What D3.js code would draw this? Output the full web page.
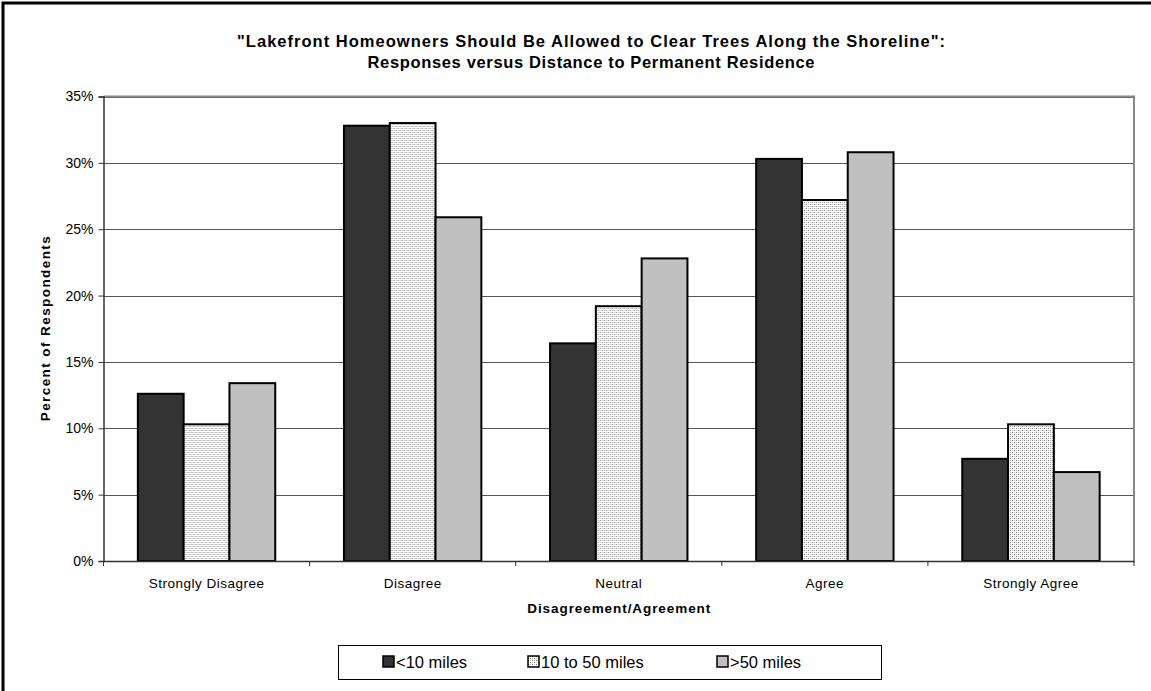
<!DOCTYPE html>
<html><head><meta charset="utf-8">
<script src="https://cdn.jsdelivr.net/npm/d3@7"></script>
<style>
html,body{margin:0;padding:0;background:#fff;overflow:hidden;}
svg{display:block;}
text{font-family:"Liberation Sans",Arial,Helvetica,sans-serif;}
</style></head>
<body>
<svg id="chart" width="1151" height="691"></svg>
<script>
const categories = ["Strongly Disagree","Disagree","Neutral","Agree","Strongly Agree"];
const seriesNames = ["<10 miles","10 to 50 miles",">50 miles"];
const under10 = [0.126, 0.328, 0.164, 0.303, 0.077];
const from10to50 = [0.103, 0.330, 0.192, 0.272, 0.103];
const over50 = [0.134, 0.259, 0.228, 0.308, 0.067];
const yTicks = [0,0.05,0.10,0.15,0.20,0.25,0.30,0.35];
const titleLines = ["\"Lakefront Homeowners Should Be Allowed to Clear Trees Along the Shoreline\":","Responses versus Distance to Permanent Residence"];
const yTitle = "Percent of Respondents";
const xTitle = "Disagreement/Agreement";

const seriesValues = [under10, from10to50, over50];
const svg = d3.select("#chart");
const defs = svg.append("defs");
const pat = defs.append("pattern").attr("id","dots").attr("patternUnits","userSpaceOnUse")
  .attr("width",4).attr("height",4);
pat.append("rect").attr("width",4).attr("height",4).attr("fill","#fff");
pat.append("rect").attr("x",0).attr("y",0).attr("width",1).attr("height",1).attr("fill","#777");
pat.append("rect").attr("x",2).attr("y",2).attr("width",1).attr("height",1).attr("fill","#777");
pat.append("rect").attr("x",2).attr("y",0).attr("width",1).attr("height",1).attr("fill","#bbb");
pat.append("rect").attr("x",0).attr("y",2).attr("width",1).attr("height",1).attr("fill","#bbb");
const fills = ["#333333","url(#dots)","#c0c0c0"];

// outer chart border (right/bottom outside view)
svg.append("path").attr("d","M3,700V3H1160").attr("fill","none").attr("stroke","#000").attr("stroke-width",3);

const L=103.5, R=1134, T=96.5, B=561;
const x0 = d3.scaleBand().domain(categories).range([L,R]).padding(0);
const x1 = d3.scaleBand().domain(seriesNames).range([0,x0.bandwidth()]).paddingInner(0).paddingOuter(0.75);
const y = d3.scaleLinear().domain([0,0.35]).range([B,T]);

// gridlines
svg.append("g").selectAll("line").data(yTicks.filter(d=>d>0)).join("line")
  .attr("x1",L).attr("x2",R).attr("y1",d=>Math.round(y(d))+0.5).attr("y2",d=>Math.round(y(d))+0.5)
  .attr("stroke","#555").attr("stroke-width",1);
// plot border top/right
svg.append("path").attr("d",`M${L},${T}H${R}V${B}`).attr("fill","none").attr("stroke","#888").attr("stroke-width",2);

// bars
const groups = svg.append("g").selectAll("g").data(categories).join("g")
  .attr("transform",d=>`translate(${x0(d)},0)`);
groups.selectAll("rect").data((c,i)=>seriesNames.map((s,j)=>({s,j,v:seriesValues[j][i]}))).join("rect")
  .attr("x",d=>x1(d.s)).attr("width",x1.bandwidth())
  .attr("y",d=>y(d.v)).attr("height",d=>B-y(d.v))
  .attr("fill",d=>fills[d.j]).attr("stroke","#000").attr("stroke-width",2);

// y axis
const yAxis = d3.axisLeft(y).tickValues(yTicks).tickFormat(d3.format(".0%")).tickSize(5).tickPadding(5);
const ya = svg.append("g").attr("transform",`translate(${L},0)`).call(yAxis);
ya.select(".domain").attr("stroke","#333").attr("stroke-width",1.5);
ya.selectAll(".tick line").attr("stroke","#333");
ya.selectAll("text").attr("font-size",14).attr("fill","#000").attr("font-family","Liberation Sans, Arial, sans-serif");

// x axis
const xAxis = d3.axisBottom(x0).tickSize(0).tickPadding(17);
const xa = svg.append("g").attr("transform",`translate(0,${B})`).call(xAxis);
xa.select(".domain").attr("stroke","#333").attr("stroke-width",1.5);
xa.selectAll("text").attr("font-size",13.5).attr("letter-spacing",0.5).attr("fill","#000").attr("font-family","Liberation Sans, Arial, sans-serif");
// category boundary ticks
svg.append("g").selectAll("line").data(d3.range(categories.length+1)).join("line")
  .attr("x1",i=>L+i*x0.step()).attr("x2",i=>L+i*x0.step())
  .attr("y1",B).attr("y2",B+5).attr("stroke","#333").attr("stroke-width",1);

// titles
const tt = svg.append("g").attr("font-weight","bold").attr("text-anchor","middle");
tt.append("text").attr("x",591).attr("y",47).attr("font-size",16.5)
  .attr("textLength",708).attr("lengthAdjust","spacing").text(titleLines[0]);
tt.append("text").attr("x",591).attr("y",68).attr("font-size",16.5)
  .attr("textLength",447).attr("lengthAdjust","spacing").text(titleLines[1]);
svg.append("text").attr("transform",`translate(50,${(T+B)/2}) rotate(-90)`).attr("text-anchor","middle")
  .attr("font-weight","bold").attr("font-size",13.5).attr("textLength",185).attr("lengthAdjust","spacing").text(yTitle);
svg.append("text").attr("x",(L+R)/2).attr("y",613).attr("text-anchor","middle")
  .attr("font-weight","bold").attr("font-size",13.5).attr("textLength",183).attr("lengthAdjust","spacing").text(xTitle);

// legend
const lg = svg.append("g");
lg.append("rect").attr("x",338.5).attr("y",645.5).attr("width",543).attr("height",34)
  .attr("fill","#fff").attr("stroke","#000").attr("stroke-width",1);
const lx = [383,528,717];
seriesNames.forEach((s,j)=>{
  lg.append("rect").attr("x",lx[j]).attr("y",656).attr("width",11).attr("height",11)
    .attr("fill",fills[j]).attr("stroke","#000").attr("stroke-width",1.5);
  lg.append("text").attr("x",lx[j]+13).attr("y",668).attr("font-size",16.5).text(s);
});
</script>
</body></html>
